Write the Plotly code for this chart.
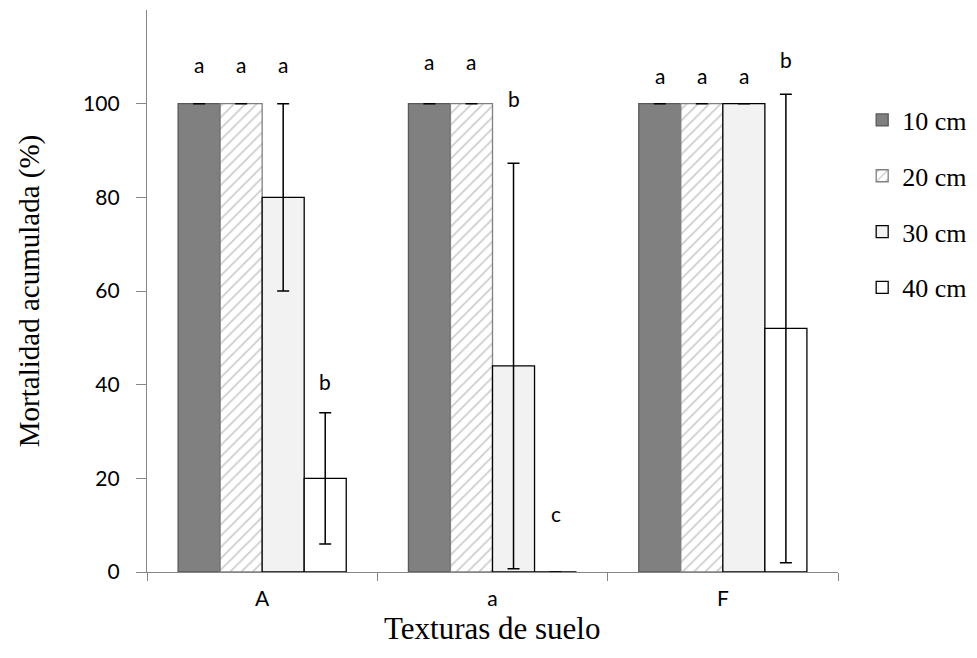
import plotly.graph_objects as go

# Soil textures and planting depths
texturas = ["A", "a", "F"]
profundidades = ["10 cm", "20 cm", "30 cm", "40 cm"]

# Cumulative mortality (%) per depth, one value per texture
mortalidad = {
    "10 cm": [100, 100, 100],
    "20 cm": [100, 100, 100],
    "30 cm": [80, 44, 100],
    "40 cm": [20, 0, 52],
}
# Error bar half-lengths
error = {
    "10 cm": [0, 0, 0],
    "20 cm": [0, 0, 0],
    "30 cm": [20, 43.3, 0],
    "40 cm": [14, 0, 50],
}
# Significance letters and the height where each is written
letras = {
    "10 cm": ["a", "a", "a"],
    "20 cm": ["a", "a", "a"],
    "30 cm": ["a", "b", "a"],
    "40 cm": ["b", "c", "b"],
}
altura_letra = {
    "10 cm": [108.3, 109.0, 106.0],
    "20 cm": [108.3, 109.0, 106.0],
    "30 cm": [108.3, 101.0, 106.0],
    "40 cm": [40.6, 12.4, 109.4],
}

estilos = {
    "10 cm": dict(color="#808080", line=dict(color="#595959", width=1.3)),
    "20 cm": dict(color="#ffffff", line=dict(color="#808080", width=1.3),
                  pattern=dict(shape="/", fgcolor="#9a9a9a", bgcolor="#ffffff",
                               size=8, solidity=0.22)),
    "30 cm": dict(color="#f2f2f2", line=dict(color="#000000", width=1.3)),
    "40 cm": dict(color="#ffffff", line=dict(color="#000000", width=1.3)),
}

SERIF = "Liberation Serif, Times New Roman, serif"
SANS = "Lato, Open Sans, sans-serif"

bargap = 0.27
fig = go.Figure()
for p in profundidades:
    fig.add_trace(go.Bar(
        name=p, x=texturas, y=mortalidad[p], marker=estilos[p],
        legendgroup=p,
        error_y=dict(type="data", array=error[p], visible=True,
                     color="#000000", thickness=1.5, width=6),
    ))

# Letters placed over each bar of the group
ancho = (1 - bargap) / len(profundidades)
anots = []
for k, p in enumerate(profundidades):
    for i, t in enumerate(texturas):
        anots.append(dict(
            x=i + (k - (len(profundidades) - 1) / 2) * ancho,
            y=altura_letra[p][i], xref="x", yref="y",
            text=letras[p][i], showarrow=False,
            font=dict(family=SANS, size=21, color="#000"),
        ))

# Horizontal axis title, set below the category labels
anots.append(dict(
    text="Texturas de suelo", x=0.5, y=-0.1, xref="paper", yref="paper",
    xanchor="center", yanchor="middle", showarrow=False,
    font=dict(family=SERIF, size=31, color="#000"),
))

fig.update_layout(
    width=977, height=658,
    margin=dict(l=147, r=139, t=10, b=86, autoexpand=False),
    paper_bgcolor="white", plot_bgcolor="white",
    barmode="group", bargap=bargap, bargroupgap=0,
    annotations=anots,
    showlegend=True,
    legend=dict(x=1.035, y=0.846, xanchor="left", yanchor="top",
                font=dict(family=SERIF, size=26, color="#000"),
                tracegroupgap=19, itemwidth=30),
    xaxis=dict(
        type="category", range=[-0.5, 2.5],
        showline=True, linecolor="#868686", linewidth=1.3,
        ticks="outside", tickson="boundaries", ticklen=8, tickcolor="#868686",
        ticklabelstandoff=8,
        tickfont=dict(family=SANS, size=21, color="#000"),
        showgrid=False,
    ),
    yaxis=dict(
        title=dict(text="Mortalidad acumulada (%)", standoff=34,
                   font=dict(family=SERIF, size=29, color="#000")),
        range=[0, 120], tickvals=[0, 20, 40, 60, 80, 100],
        showline=True, linecolor="#868686", linewidth=1.3,
        ticks="outside", ticklen=10, tickcolor="#868686",
        ticklabelstandoff=12,
        tickfont=dict(family=SANS, size=21, color="#000"),
        showgrid=False, zeroline=False,
    ),
)

fig.write_html("out.html")
